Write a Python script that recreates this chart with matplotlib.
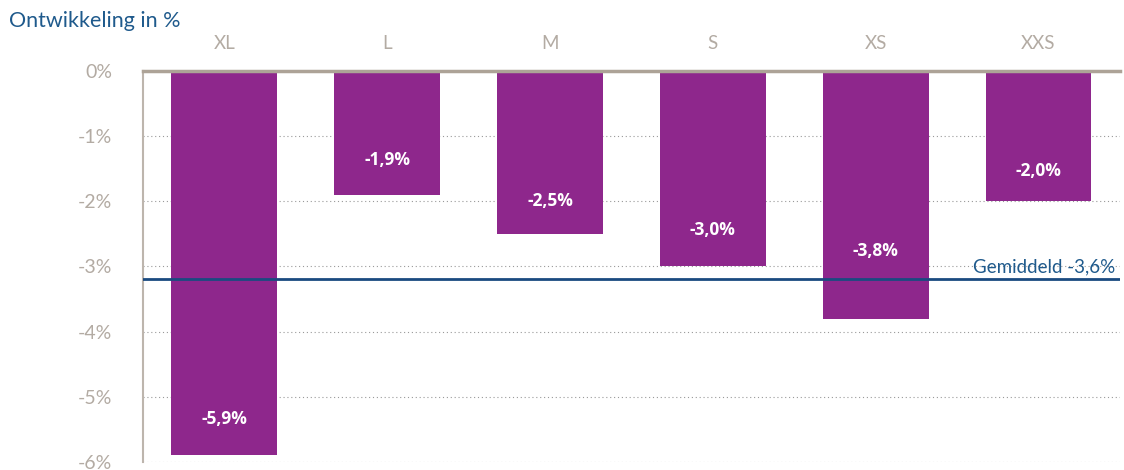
import matplotlib.pyplot as plt

categories = ['XL', 'L', 'M', 'S', 'XS', 'XXS']
values = [-5.9, -1.9, -2.5, -3.0, -3.8, -2.0]
labels = ['-5,9%', '-1,9%', '-2,5%', '-3,0%', '-3,8%', '-2,0%']
avg_line = -3.19  # drawn position as in picture
avg_label = 'Gemiddeld -3,6%'
yticks = [0, -1, -2, -3, -4, -5, -6]
ytick_labels = ['0%', '-1%', '-2%', '-3%', '-4%', '-5%', '-6%']

plt.rcParams['font.family'] = ['Lato', 'DejaVu Sans']

bar_color = '#8e278c'
gray = '#b3aba3'
blue = '#1f5a8c'

fig = plt.figure(figsize=(11.24, 4.70), dpi=100)
ax = fig.add_axes([0.1272, 0.017, 0.8692, 0.832])

x = range(len(categories))
ax.bar(x, values, width=0.65, color=bar_color, zorder=3)

# label offsets (points above bar end); XS moved up to clear the average line
offsets = [26, 25, 24, 26, 49, 22]
for i, (v, t) in enumerate(zip(values, labels)):
    ax.annotate(t, (i, v), xytext=(0, offsets[i]), textcoords='offset points',
                ha='center', va='center', color='white', fontsize=12.5,
                fontweight='bold', family=['Open Sans', 'DejaVu Sans'], zorder=4)

ax.set_xlim(-0.5, 5.5)
ax.set_ylim(-6, 0)
ax.set_yticks(yticks)
ax.set_yticklabels(ytick_labels)
ax.grid(axis='y', linestyle=(0, (1, 2.5)), color='#999999', linewidth=0.8, zorder=0)

ax.xaxis.tick_top()
ax.set_xticks(list(x))
ax.set_xticklabels(categories)
ax.tick_params(axis='x', length=0, pad=14, labelsize=13.5, labelcolor=gray)
ax.tick_params(axis='y', length=0, pad=22, labelsize=14, labelcolor=gray)

for s in ['right', 'bottom']:
    ax.spines[s].set_visible(False)
ax.spines['top'].set_color('#ada397')
ax.spines['top'].set_linewidth(2.5)
ax.spines['top'].set_zorder(5)
ax.spines['left'].set_color('#bdb5ad')
ax.spines['left'].set_linewidth(1.5)

ax.axhline(avg_line, color='#1a4a80', linewidth=2, zorder=5)
ax.text(5.47, avg_line + 0.06, avg_label, ha='right', va='bottom',
        color=blue, fontsize=13.5, zorder=6)

fig.text(0.008, 0.955, 'Ontwikkeling in %', color=blue, fontsize=15.5,
         ha='left', va='center')

fig.savefig('out.png', dpi=100)
